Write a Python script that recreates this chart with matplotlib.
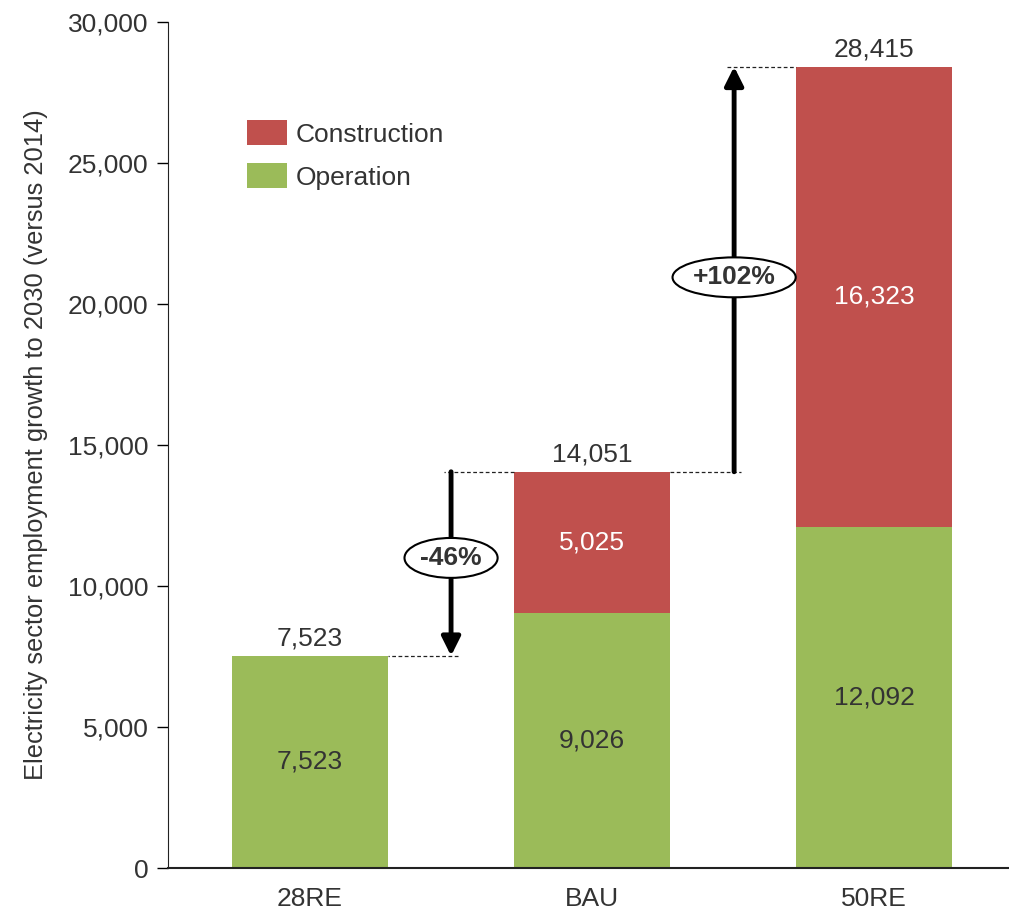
import matplotlib.pyplot as plt
import numpy as np

plt.rcParams['font.family'] = ['Liberation Sans', 'DejaVu Sans']

# data
scenarios = ['28RE', 'BAU', '50RE']
operation = [7523, 9026, 12092]
construction = [0, 5025, 16323]
changes = ['-46%', '+102%']
change_pairs = [(1, 0), (1, 2)]   # (from, to) scenario index

red = '#C0504D'
green = '#9BBB59'
txt = '#333333'
fs = 19

fig = plt.figure(figsize=(10.09, 9.15), dpi=100)
ax = fig.add_axes([168/1009, 47/915, 841/1009, 846/915])

x = np.arange(len(scenarios))
w = 0.553
totals = [o + c for o, c in zip(operation, construction)]

ax.bar(x, operation, w, color=green, label='Operation')
ax.bar(x, construction, w, bottom=operation, color=red, label='Construction')

# segment labels
for i in x:
  ax.text(i, operation[i] / 2, f'{operation[i]:,}', ha='center', va='center', fontsize=fs, color=txt)
  if construction[i] > 0:
    ax.text(i, operation[i] + construction[i] / 2, f'{construction[i]:,}', ha='center', va='center',
            fontsize=fs, color='white')
  ax.annotate(f'{totals[i]:,}', (i, totals[i]), xytext=(0, 4), textcoords='offset points',
              ha='center', va='bottom', fontsize=fs, color=txt)

# change arrows
for lab, (a, b) in zip(changes, change_pairs):
  xm = (a + b) / 2 + (0.004 if b > a else 0.0)
  ya, yb = totals[a], totals[b]
  # dashed guides
  ax.plot([a + w / 2 * np.sign(b - a), xm + 0.025 * np.sign(b - a)], [ya, ya], ls=(0, (3, 2)), lw=0.9, color='#222222')
  ax.plot([xm - 0.025 * np.sign(b - a), b - w / 2 * np.sign(b - a)], [yb, yb], ls=(0, (3, 2)), lw=0.9, color='#222222')
  ax.annotate('', xy=(xm, yb), xytext=(xm, ya),
              arrowprops=dict(arrowstyle='-|>', lw=3.5, color='black', mutation_scale=28,
                              shrinkA=0, shrinkB=0))
  ax.text(xm, ya + (yb - ya) * (0.48 if b > a else 0.468), lab, ha='center', va='center', fontsize=fs,
          fontweight='bold', color=txt,
          bbox=dict(boxstyle='ellipse,pad=0.08', fc='white', ec='black', lw=1.5))

ax.set_xlim(-0.504, 2.479)
ax.set_ylim(0, 30000)
ax.set_yticks(np.arange(0, 30001, 5000))
ax.set_yticklabels([f'{v:,}' for v in range(0, 30001, 5000)])
ax.set_xticks(x)
ax.set_xticklabels(scenarios)
ax.tick_params(axis='y', direction='out', length=8, width=1, pad=6, labelsize=fs, labelcolor=txt)
ax.tick_params(axis='x', length=0, pad=14, labelsize=fs, labelcolor=txt)
for s in ['top', 'right']:
  ax.spines[s].set_visible(False)
ax.spines['left'].set_color('#222222')
ax.spines['bottom'].set_color('#222222')
ax.spines['bottom'].set_linewidth(1.5)
ax.set_ylabel('Electricity sector employment growth to 2030 (versus 2014)', fontsize=18.4, color=txt, labelpad=14)

h, l = ax.get_legend_handles_labels()
ax.legend(h[::-1], l[::-1], loc='upper left', bbox_to_anchor=(0.094, 0.884), frameon=False,
          fontsize=fs, handlelength=1.5, handleheight=1.1, handletextpad=0.35, labelspacing=0.62,
          borderpad=0, borderaxespad=0, labelcolor=txt)

plt.savefig('out.png', dpi=100)
